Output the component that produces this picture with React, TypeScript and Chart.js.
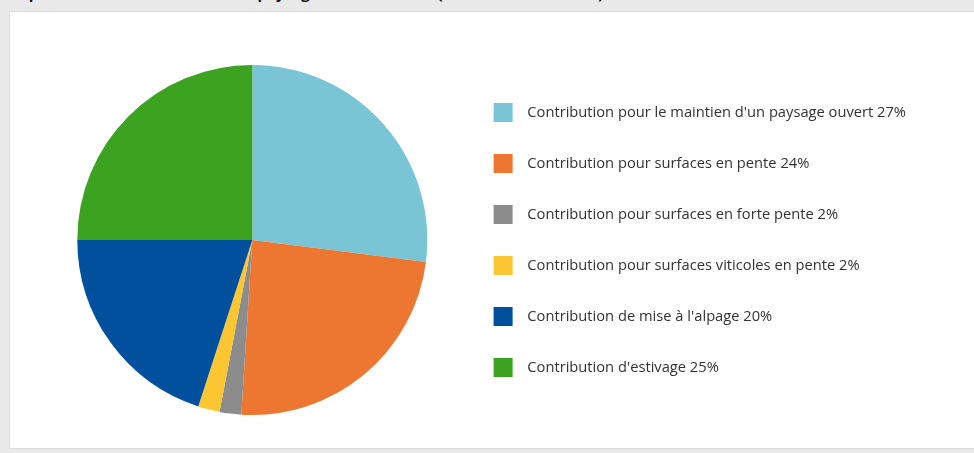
import React, { useEffect, useRef } from "react";
import { Chart, registerables } from "chart.js";
Chart.register(...registerables);

const categories = [
  "Contribution pour le maintien d'un paysage ouvert",
  "Contribution pour surfaces en pente",
  "Contribution pour surfaces en forte pente",
  "Contribution pour surfaces viticoles en pente",
  "Contribution de mise à l'alpage",
  "Contribution d'estivage",
];
const values = [27, 24, 2, 2, 20, 25];
const colors = ["#7ac5d5", "#ed7730", "#8c8c8c", "#fcc532", "#00509e", "#3ba320"];
const title = "Répartition des contributions au paysage cultivé en 2022 (en millions de francs)";

export default function App() {
  const ref = useRef<HTMLCanvasElement>(null);
  useEffect(() => {
    document.body.style.margin = "0";
    const base = (Chart as any).overrides.pie.plugins.legend.labels.generateLabels;
    const chart = new Chart(ref.current!, {
      type: "pie",
      data: {
        labels: categories.map((c, i) => `${c} ${values[i]}%`),
        datasets: [{ data: values, backgroundColor: colors, borderWidth: 0 }],
      },
      options: {
        animation: false,
        responsive: false,
        maintainAspectRatio: false,
        layout: { padding: { left: 33, top: 53, bottom: 33, right: 58 } },
        plugins: {
          legend: {
            position: "right",
            align: "center",
            maxWidth: 700,
            labels: {
              boxWidth: 19,
              boxHeight: 19,
              padding: 32,
              color: "#333333",
              font: { family: "Open Sans", size: 14.7 },
              generateLabels: (c: any) =>
                base(c).map((l: any) => ({ ...l, text: "\u2002" + l.text })),
            },
          },
          tooltip: { enabled: false },
        },
      },
    });
    return () => chart.destroy();
  }, []);

  return (
    <div style={{ position: "fixed", inset: 0, background: "#e9e9e9", overflow: "hidden" }}>
      <div
        style={{
          position: "absolute",
          left: 10,
          top: -17.5,
          whiteSpace: "nowrap",
          font: "bold 15px 'Open Sans', sans-serif",
          lineHeight: "20px",
          color: "#111",
        }}
      >
        {title}
      </div>
      <div
        style={{
          position: "absolute",
          left: 9,
          top: 11,
          width: 964,
          height: 436,
          background: "#fff",
          border: "1px solid #dcdcdc",
        }}
      >
        <canvas ref={ref} width={964} height={436} style={{ display: "block" }} />
      </div>
    </div>
  );
}
